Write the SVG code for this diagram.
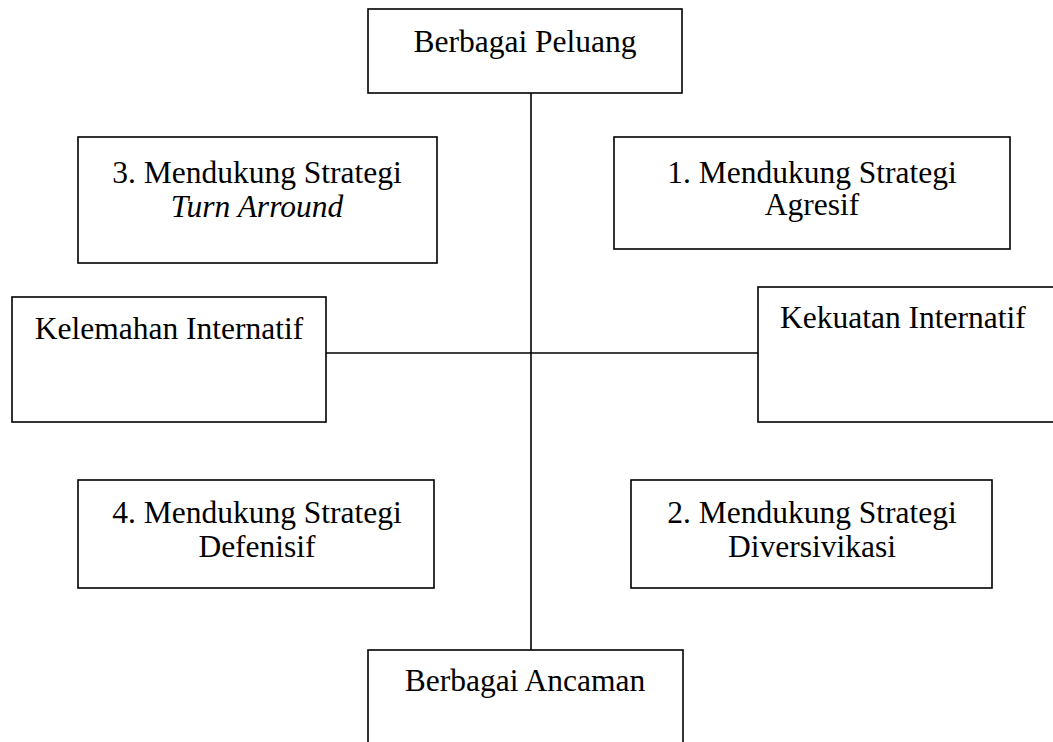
<svg xmlns="http://www.w3.org/2000/svg" width="1053" height="742" viewBox="0 0 1053 742">
<style>
rect{fill:#fff;stroke:#000;stroke-width:1.6}
line{stroke:#000;stroke-width:1.6}
text{font-family:"Liberation Serif","Times New Roman",serif;font-size:31.5px;fill:#000}
.c{text-anchor:middle}
.i{font-style:italic}
</style>
<rect x="0" y="0" width="1053" height="742" style="stroke:none"/>
<g id="connectors">
<line x1="531" y1="93" x2="531" y2="650"/>
<line x1="326" y1="353" x2="758" y2="353"/>
</g>
<g id="peluang">
<rect x="368" y="9" width="314" height="84"/>
<text class="c" x="525" y="52">Berbagai Peluang</text>
</g>
<g id="ancaman">
<rect x="368" y="650" width="315" height="110"/>
<text class="c" x="525" y="691">Berbagai Ancaman</text>
</g>
<g id="kelemahan">
<rect x="12" y="297" width="314" height="125"/>
<text class="c" x="169" y="339">Kelemahan Internatif</text>
</g>
<g id="kekuatan">
<rect x="758" y="287" width="320" height="135"/>
<text x="780" y="328">Kekuatan Internatif</text>
</g>
<g id="strategi3">
<rect x="78" y="137" width="359" height="126"/>
<text class="c" x="257" y="183">3. Mendukung Strategi</text>
<text class="c i" x="257" y="217">Turn Arround</text>
</g>
<g id="strategi1">
<rect x="614" y="137" width="396" height="112"/>
<text class="c" x="812" y="183">1. Mendukung Strategi</text>
<text class="c" x="812" y="215">Agresif</text>
</g>
<g id="strategi4">
<rect x="78" y="480" width="356" height="108"/>
<text class="c" x="257" y="523">4. Mendukung Strategi</text>
<text class="c" x="257" y="557">Defenisif</text>
</g>
<g id="strategi2">
<rect x="631" y="480" width="361" height="108"/>
<text class="c" x="812" y="523">2. Mendukung Strategi</text>
<text class="c" x="812" y="557">Diversivikasi</text>
</g>
</svg>
